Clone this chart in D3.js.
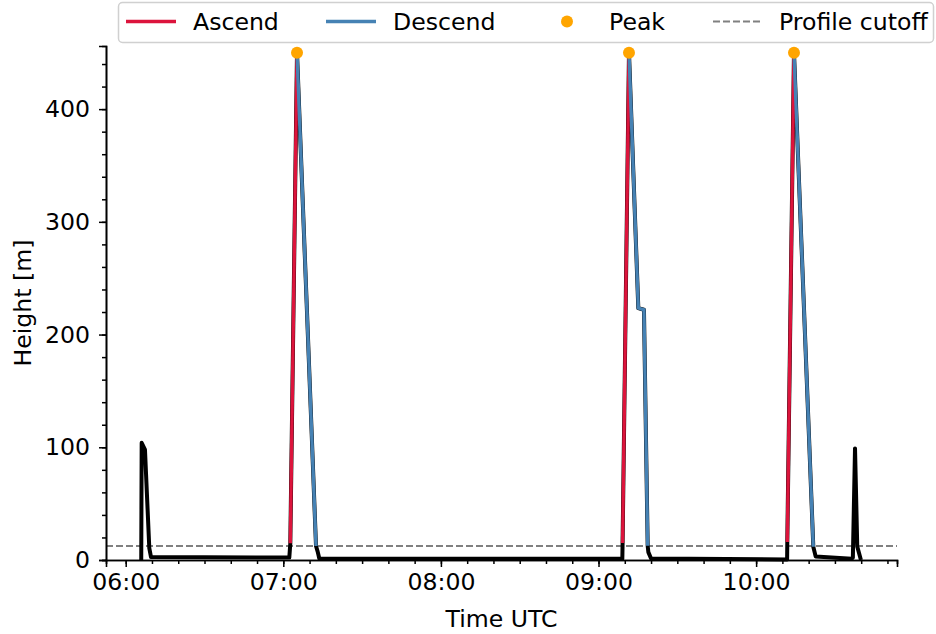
<!DOCTYPE html>
<html lang="en">
<head>
    <meta charset="UTF-8">
    <title>Tethered balloon profiles</title>
    <script src="https://cdn.jsdelivr.net/npm/d3@7/dist/d3.min.js"></script>
    <style>
        body { margin: 0; background: #fff; }
        svg text { font-family: "DejaVu Sans", sans-serif; fill: #000; }
    </style>
</head>
<body>
    <div id="chart"></div>
    <script>
    // full height record (black line)
    const allTimes = ["06:05:55", "06:06:05", "06:07:20", "06:08:59", "06:09:38", "07:02:17", "07:02:40",
        "07:05:13", "07:12:27", "07:13:05", "07:13:42", "09:09:04", "09:09:10", "09:11:36", "09:15:09",
        "09:17:18", "09:18:43", "09:18:58", "09:20:00", "10:11:48", "10:11:52", "10:14:25", "10:21:46",
        "10:22:41", "10:36:23", "10:36:50", "10:37:39", "10:38:30", "10:39:54"];
    const allHeights = [0, 104, 98, 10.6, 2.6, 2.2, 14.8,
        450, 12.4, 7.4, 1.3, 1.0, 15, 450, 223.5,
        222, 12.7, 7, 1.3, 0.5, 16, 450, 11.8,
        3, 1.2, 2, 99, 12, 0];

    // ascending parts (red)
    const ascTimes = [["07:02:40", "07:05:13"], ["09:09:10", "09:11:36"], ["10:11:52", "10:14:25"]];
    const ascHeights = [[14.8, 450], [15, 450], [16, 450]];

    // descending parts (blue)
    const descTimes = [["07:05:13", "07:12:27"], ["09:11:36", "09:15:09", "09:17:18", "09:18:43"], ["10:14:25", "10:21:46"]];
    const descHeights = [[450, 12.4], [450, 223.5, 222, 12.7], [450, 11.8]];

    // peaks
    const peakTimes = ["07:05:13", "09:11:36", "10:14:25"];
    const peakHeights = [450, 450, 450];

    const cutoff = 12.5;
    const yTicks = [0, 100, 200, 300, 400];

    const parseT = s => new Date("2020-01-01T" + s + "Z");

    const width = 936, height = 634;
    const margin = { left: 106, right: 897, top: 46, bottom: 560 };
    const fontSize = 23.6;

    const svg = d3.select("#chart").append("svg")
        .attr("width", width)
        .attr("height", height);

    const xScale = d3.scaleUtc()
        .domain([parseT("05:52:30"), parseT("10:53:38")])
        .range([margin.left, margin.right]);
    const yScale = d3.scaleLinear()
        .domain([0, 456])
        .range([margin.bottom, margin.top]);

    // cutoff line
    svg.append("line")
        .attr("x1", margin.left).attr("x2", margin.right)
        .attr("y1", yScale(cutoff)).attr("y2", yScale(cutoff))
        .attr("stroke", "#808080")
        .attr("stroke-width", 2)
        .attr("stroke-dasharray", "7,3");

    const line = d3.line()
        .x(d => xScale(parseT(d[0])))
        .y(d => yScale(d[1]));

    svg.append("path")
        .datum(allTimes.map((t, i) => [t, allHeights[i]]))
        .attr("d", line)
        .attr("fill", "none")
        .attr("stroke", "#000")
        .attr("stroke-width", 4)
        .attr("stroke-linejoin", "round");

    ascTimes.forEach((ts, k) => {
        svg.append("path")
            .datum(ts.map((t, i) => [t, ascHeights[k][i]]))
            .attr("d", line)
            .attr("fill", "none")
            .attr("stroke", "crimson")
            .attr("stroke-width", 3.4);
    });
    descTimes.forEach((ts, k) => {
        svg.append("path")
            .datum(ts.map((t, i) => [t, descHeights[k][i]]))
            .attr("d", line)
            .attr("fill", "none")
            .attr("stroke", "steelblue")
            .attr("stroke-width", 3.4);
    });

    svg.selectAll("circle.peak")
        .data(peakTimes)
        .enter()
        .append("circle")
        .attr("class", "peak")
        .attr("cx", d => xScale(parseT(d)))
        .attr("cy", (d, i) => yScale(peakHeights[i]))
        .attr("r", 6)
        .attr("fill", "orange");

    // axes
    const xAxis = d3.axisBottom(xScale)
        .ticks(d3.utcHour.every(1))
        .tickFormat(d3.utcFormat("%H:%M"))
        .tickSize(7).tickPadding(6);
    const xMinor = d3.axisBottom(xScale)
        .ticks(d3.utcMinute.every(10))
        .tickFormat("")
        .tickSize(4);
    const yAxis = d3.axisLeft(yScale)
        .tickValues(yTicks)
        .tickSize(7).tickPadding(9);
    const yMinor = d3.axisLeft(yScale)
        .tickValues(d3.range(0, 457, 20))
        .tickFormat("")
        .tickSize(4);

    [xMinor, xAxis].forEach(ax => {
        svg.append("g")
            .attr("transform", `translate(0, ${margin.bottom})`)
            .call(ax);
    });
    [yMinor, yAxis].forEach(ax => {
        svg.append("g")
            .attr("transform", `translate(${margin.left}, 0)`)
            .call(ax);
    });
    svg.selectAll(".domain").attr("stroke-width", 1.6).attr("stroke", "#000");
    svg.selectAll(".tick line").attr("stroke-width", 1.5).attr("stroke", "#000");
    svg.selectAll(".tick text")
        .style("font-size", fontSize + "px")
        .style("font-family", "DejaVu Sans");

    // axis labels
    svg.append("text")
        .attr("x", (margin.left + margin.right) / 2)
        .attr("y", 627)
        .attr("text-anchor", "middle")
        .style("font-size", fontSize + "px")
        .text("Time UTC");
    svg.append("text")
        .attr("transform", "rotate(-90)")
        .attr("x", -(margin.top + margin.bottom) / 2)
        .attr("y", 31)
        .attr("text-anchor", "middle")
        .style("font-size", fontSize + "px")
        .text("Height [m]");

    // legend
    const legend = svg.append("g");
    legend.append("rect")
        .attr("x", 118.5).attr("y", 2.5)
        .attr("width", 815).attr("height", 40)
        .attr("rx", 4)
        .attr("fill", "#fff").attr("fill-opacity", 0.8)
        .attr("stroke", "#d0d0d0").attr("stroke-width", 1.5);

    const legendY = 21.5;
    legend.append("line").attr("x1", 126).attr("x2", 176).attr("y1", legendY).attr("y2", legendY)
        .attr("stroke", "crimson").attr("stroke-width", 3.4);
    legend.append("line").attr("x1", 326).attr("x2", 376).attr("y1", legendY).attr("y2", legendY)
        .attr("stroke", "steelblue").attr("stroke-width", 3.4);
    legend.append("circle").attr("cx", 567).attr("cy", legendY).attr("r", 6).attr("fill", "orange");
    legend.append("line").attr("x1", 713).attr("x2", 761).attr("y1", legendY).attr("y2", legendY)
        .attr("stroke", "#808080").attr("stroke-width", 2).attr("stroke-dasharray", "7,3");

    const labels = [["Ascend", 193], ["Descend", 393], ["Peak", 609], ["Profile cutoff", 779]];
    labels.forEach(l => {
        legend.append("text")
            .attr("x", l[1])
            .attr("y", 29.5)
            .style("font-size", fontSize + "px")
            .text(l[0]);
    });
    </script>
</body>
</html>
